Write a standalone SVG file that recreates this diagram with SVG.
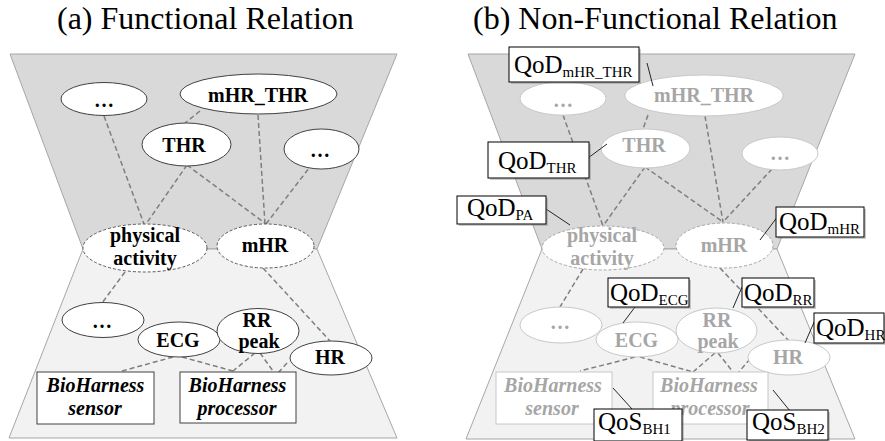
<svg xmlns="http://www.w3.org/2000/svg" width="885" height="441" viewBox="0 0 885 441">
<defs>
<style>
.title{font-family:"Liberation Serif","Times New Roman",serif;font-size:32px;fill:#000}
.up{fill:#d9d9d9;stroke:#a6a6a6;stroke-width:1}
.lo{fill:#f2f2f2;stroke:#a6a6a6;stroke-width:1}
.n{fill:#fff;stroke:#404040;stroke-width:1}
.nd{fill:#fff;stroke:#595959;stroke-width:1;stroke-dasharray:3 2}
.gn{fill:#fff;stroke:#c8c8c8;stroke-width:1}
.gnd{fill:#fff;stroke:#a6a6a6;stroke-width:1;stroke-dasharray:3 2}
.t{font-family:"Liberation Serif","Times New Roman",serif;font-size:20px;font-weight:bold;fill:#000;text-anchor:middle}
.gt{font-family:"Liberation Serif","Times New Roman",serif;font-size:20px;font-weight:bold;fill:#a6a6a6;text-anchor:middle}
.it{font-style:italic}
.e{fill:none;stroke:#7f7f7f;stroke-width:1.5;stroke-dasharray:5 3}
.q{fill:#fff;stroke:#000;stroke-width:1}
.sh{fill:#8c8c8c;opacity:0.45}
.qt{font-family:"Liberation Serif","Times New Roman",serif;font-size:25px;fill:#000}
.ql{fill:none;stroke:#262626;stroke-width:1}
</style>
</defs>
<rect width="885" height="441" fill="#fff"/>
<text class="title" x="57" y="29">(a) Functional Relation</text>
<text class="title" x="473" y="29">(b) Non-Functional Relation</text>

<!-- Panel (a) background -->
<g id="a-bg">
<polygon class="up" points="10,54 397,54 317,249 83,249"/>
<polygon class="lo" points="83,249 317,249 397,438 9,438"/>
</g>
<!-- Panel (b) background -->
<g id="b-bg">
<polygon class="up" points="468,54 855,54 777,249 542,249"/>
<polygon class="lo" points="542,249 777,249 855,439 466,439"/>
</g>

<g id="connectors">
<!-- panel a -->
<line class="e" x1="104" y1="116" x2="144" y2="224"/>
<line class="e" x1="200" y1="111" x2="185" y2="123"/>
<line class="e" x1="258" y1="115" x2="265" y2="224"/>
<line class="e" x1="187" y1="165" x2="146" y2="224"/>
<line class="e" x1="187" y1="165" x2="266" y2="224"/>
<line class="e" x1="313" y1="163" x2="266" y2="224"/>
<line class="e" x1="125" y1="272" x2="102" y2="303"/>
<line class="e" x1="263" y1="268" x2="330" y2="341"/>
<line class="e" x1="173" y1="357" x2="122" y2="371"/>
<line class="e" x1="182" y1="357" x2="233" y2="371"/>
<line class="e" x1="255" y1="353" x2="233" y2="371"/>
<line class="e" x1="260" y1="353" x2="273" y2="371"/>
<line class="e" x1="287" y1="363" x2="278" y2="373"/>
<!-- panel b -->
<line class="e" x1="563" y1="115" x2="603" y2="226"/>
<line class="e" x1="648" y1="115" x2="643" y2="129"/>
<line class="e" x1="705" y1="116" x2="723" y2="222"/>
<line class="e" x1="645" y1="167" x2="603" y2="226"/>
<line class="e" x1="645" y1="167" x2="723" y2="222"/>
<line class="e" x1="772" y1="169" x2="723" y2="222"/>
<line class="e" x1="583" y1="269" x2="560" y2="307"/>
<line class="e" x1="720" y1="268" x2="789" y2="341"/>
<line class="e" x1="635" y1="357" x2="580" y2="371"/>
<line class="e" x1="640" y1="357" x2="693" y2="372"/>
<line class="e" x1="715" y1="353" x2="693" y2="372"/>
<line class="e" x1="718" y1="353" x2="733" y2="372"/>
<line class="e" x1="750" y1="359" x2="738" y2="373"/>
</g>

<!-- Panel (a) nodes -->
<g id="a-dots1"><ellipse class="n" cx="104" cy="99" rx="43" ry="16.5"/><text class="t" x="104" y="107" font-size="24" font-weight="normal">…</text></g>
<g id="a-mhrthr"><ellipse class="n" cx="258.5" cy="94" rx="78.5" ry="20"/><text class="t" x="258" y="102">mHR_THR</text></g>
<g id="a-thr"><ellipse class="n" cx="186.5" cy="144.5" rx="44.5" ry="21.5"/><text class="t" x="184" y="152">THR</text></g>
<g id="a-dots2"><ellipse class="n" cx="321.5" cy="149" rx="37.5" ry="20"/><text class="t" x="320" y="157" font-size="24" font-weight="normal">…</text></g>
<g id="a-pa"><ellipse class="nd" cx="145" cy="248" rx="62" ry="24"/><text class="t" x="145" y="242">physical</text><text class="t" x="145" y="265">activity</text></g>
<g id="a-mhr"><ellipse class="nd" cx="265.5" cy="246" rx="48.5" ry="22"/><text class="t" x="265" y="252">mHR</text></g>
<g id="a-dots3"><ellipse class="n" cx="103" cy="320" rx="41" ry="17.5"/><text class="t" x="102" y="328">…</text></g>
<g id="a-ecg"><ellipse class="n" cx="179" cy="339.5" rx="41" ry="17.5"/><text class="t" x="178" y="347">ECG</text></g>
<g id="a-rr"><ellipse class="n" cx="258" cy="331" rx="41" ry="22.5"/><text class="t" x="257" y="327">RR</text><text class="t" x="259" y="348" font-size="18">peak</text></g>
<g id="a-hr"><ellipse class="n" cx="331" cy="358" rx="41" ry="17"/><text class="t" x="330" y="364">HR</text></g>
<g id="a-sensor"><rect class="n" x="37" y="372" width="117" height="52"/><text class="t it" x="95.5" y="392">BioHarness</text><text class="t it" x="95" y="415">sensor</text></g>
<g id="a-proc"><rect class="n" x="180" y="372" width="116" height="51"/><text class="t it" x="237.5" y="392">BioHarness</text><text class="t it" x="237" y="415">processor</text></g>

<!-- Panel (b) nodes -->
<g id="b-dots1"><ellipse class="gn" cx="563" cy="98.5" rx="43" ry="16.7"/><text class="gt" x="563" y="107" font-size="24" font-weight="normal">…</text></g>
<g id="b-mhrthr"><ellipse class="gn" cx="704" cy="95.5" rx="79" ry="20.5"/><text class="gt" x="704" y="102">mHR_THR</text></g>
<g id="b-thr"><ellipse class="gn" cx="645.5" cy="148.5" rx="44.5" ry="19.5"/><text class="gt" x="644" y="152">THR</text></g>
<g id="b-dots2"><ellipse class="gn" cx="780" cy="153.5" rx="38" ry="16.5"/><text class="gt" x="780" y="160" font-size="24" font-weight="normal">…</text></g>
<g id="b-pa"><ellipse class="gnd" cx="603" cy="248" rx="61" ry="22"/><text class="gt" x="602" y="242">physical</text><text class="gt" x="602" y="265">activity</text></g>
<g id="b-mhr"><ellipse class="gnd" cx="724.5" cy="245.5" rx="48.5" ry="22.5"/><text class="gt" x="724" y="252">mHR</text></g>
<g id="b-dots3"><ellipse class="gn" cx="561" cy="325" rx="41" ry="18"/><text class="gt" x="560" y="329">…</text></g>
<g id="b-ecg"><ellipse class="gn" cx="637" cy="339.5" rx="41" ry="17.5"/><text class="gt" x="636.5" y="347">ECG</text></g>
<g id="b-rr"><ellipse class="gn" cx="716.5" cy="330.5" rx="40.5" ry="22.5"/><text class="gt" x="717" y="327">RR</text><text class="gt" x="718" y="348" font-size="18">peak</text></g>
<g id="b-hr"><ellipse class="gn" cx="789" cy="357.5" rx="41" ry="17.5"/><text class="gt" x="788" y="364">HR</text></g>
<g id="b-sensor"><rect class="gn" x="496" y="372" width="116" height="52"/><text class="gt it" x="553" y="392">BioHarness</text><text class="gt it" x="552" y="415">sensor</text></g>
<g id="b-proc"><rect class="gn" x="653" y="372" width="115" height="52"/><text class="gt it" x="709" y="392">BioHarness</text><text class="gt it" x="710" y="415">processor</text></g>

<!-- QoD / QoS annotations -->
<g id="q-links">
<line class="ql" x1="647" y1="63" x2="653" y2="86"/>
<line class="ql" x1="588" y1="158" x2="607" y2="144"/>
<line class="ql" x1="546" y1="209" x2="570" y2="225"/>
<line class="ql" x1="760" y1="240" x2="778" y2="216"/>
<line class="ql" x1="635" y1="307" x2="623" y2="323"/>
<line class="ql" x1="742" y1="287" x2="733" y2="308"/>
<line class="ql" x1="815" y1="320" x2="805" y2="343"/>
<line class="ql" x1="613" y1="388" x2="632" y2="409"/>
<line class="ql" x1="773" y1="390" x2="790" y2="411"/>
</g>
<g id="qod-mhrthr"><rect class="sh" x="511" y="49" width="130" height="35"/><rect class="q" x="509" y="47" width="130" height="35"/><text class="qt" x="514" y="73">QoD<tspan font-size="15" dy="4">mHR_THR</tspan></text></g>
<g id="qod-thr"><rect class="sh" x="490" y="144" width="101" height="36"/><rect class="q" x="488" y="142" width="101" height="36"/><text class="qt" x="498" y="169">QoD<tspan font-size="15" dy="4">THR</tspan></text></g>
<g id="qod-pa"><rect class="sh" x="459" y="198" width="89" height="28"/><rect class="q" x="457" y="196" width="89" height="28"/><text class="qt" x="467" y="216">QoD<tspan font-size="15" dy="4">PA</tspan></text></g>
<g id="qod-mhr"><rect class="sh" x="778" y="209" width="88" height="30"/><rect class="q" x="776" y="207" width="88" height="30"/><text class="qt" x="779" y="230">QoD<tspan font-size="15" dy="4">mHR</tspan></text></g>
<g id="qod-ecg"><rect class="sh" x="610" y="280" width="81" height="29"/><rect class="q" x="608" y="278" width="81" height="29"/><text class="qt" x="610" y="301">QoD<tspan font-size="15" dy="4">ECG</tspan></text></g>
<g id="qod-rr"><rect class="sh" x="744" y="280" width="72" height="29"/><rect class="q" x="742" y="278" width="72" height="29"/><text class="qt" x="744" y="301">QoD<tspan font-size="15" dy="4">RR</tspan></text></g>
<g id="qod-hr"><rect class="sh" x="816" y="315" width="71" height="30"/><rect class="q" x="814" y="313" width="70" height="30"/><text class="qt" x="816" y="336">QoD<tspan font-size="15" dy="4">HR</tspan></text></g>
<g id="qos-bh1"><rect class="sh" x="596" y="411" width="88" height="32"/><rect class="q" x="594" y="409" width="88" height="32"/><text class="qt" x="598" y="430">QoS<tspan font-size="15" dy="4">BH1</tspan></text></g>
<g id="qos-bh2"><rect class="sh" x="749" y="412" width="81" height="30"/><rect class="q" x="747" y="410" width="81" height="30"/><text class="qt" x="752" y="430">QoS<tspan font-size="15" dy="4">BH2</tspan></text></g>
</svg>
